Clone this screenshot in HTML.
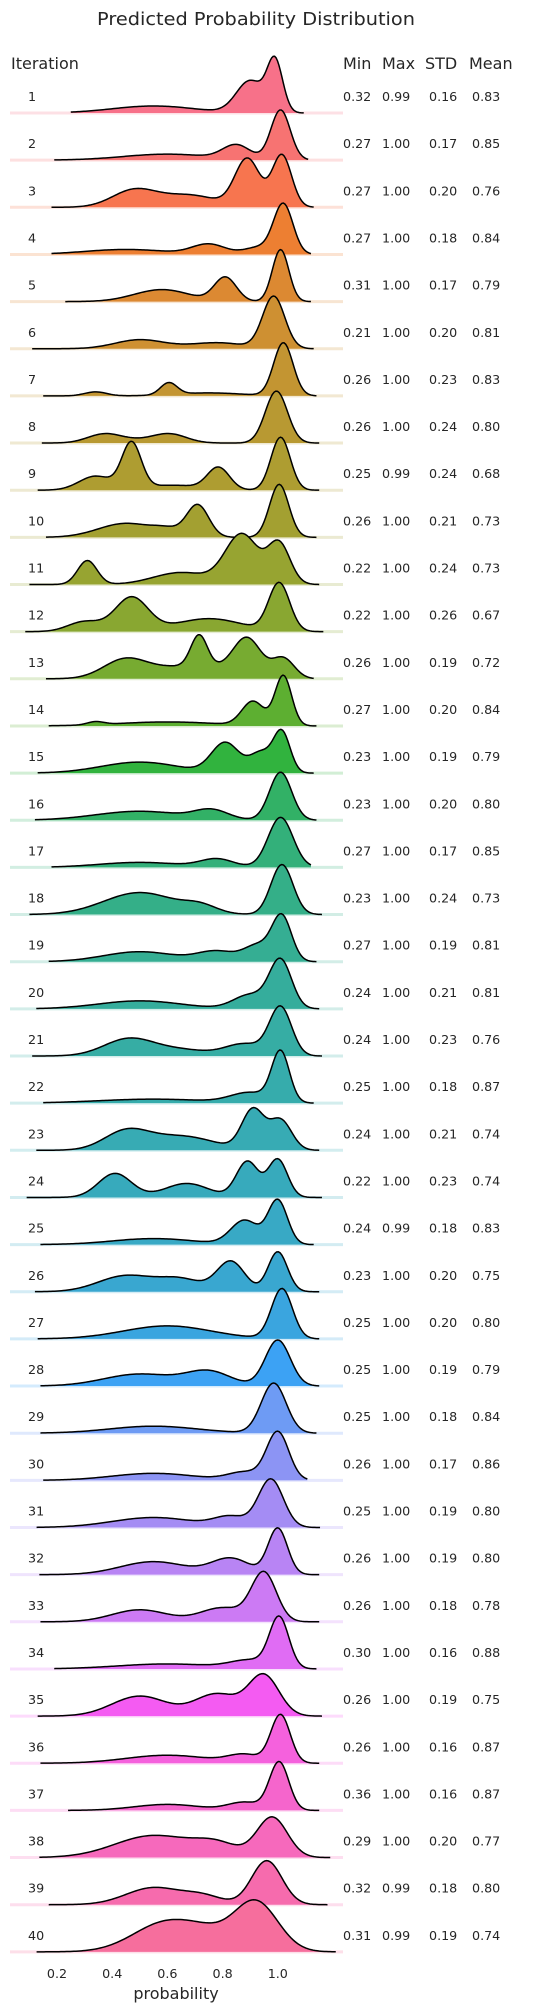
<!DOCTYPE html>
<html><head><meta charset="utf-8">
<style>
html,body{margin:0;padding:0;background:#fff;}
svg{display:block;font-family:"DejaVu Sans","Liberation Sans",sans-serif;}
</style></head>
<body>
<svg id="chart" width="537" height="2010" viewBox="0 0 537 2010" xmlns="http://www.w3.org/2000/svg">
<text x="256" y="25" font-size="18" fill="#262626" text-anchor="middle" textLength="318" lengthAdjust="spacingAndGlyphs">Predicted Probability Distribution</text>
<text x="11" y="69" font-size="16" fill="#262626">Iteration</text>
<text x="343" y="69" font-size="16" fill="#262626">Min</text>
<text x="382" y="69" font-size="16" fill="#262626">Max</text>
<text x="425" y="69" font-size="16" fill="#262626">STD</text>
<text x="469" y="69" font-size="16" fill="#262626">Mean</text>
<g id="ridges"></g>
<g id="labels"></g>
<g id="xaxis"></g>
<text x="176" y="1999" font-size="16" fill="#262626" text-anchor="middle">probability</text>
</svg>
<script>
const xTicks = [0.2, 0.4, 0.6, 0.8, 1.0];
const xTickLabels = ["0.2", "0.4", "0.6", "0.8", "1.0"];
const mins = [0.32,0.27,0.27,0.27,0.31,0.21,0.26,0.26,0.25,0.26,0.22,0.22,0.26,0.27,0.23,0.23,0.27,0.23,0.27,0.24,0.24,0.25,0.24,0.22,0.24,0.23,0.25,0.25,0.25,0.26,0.25,0.26,0.26,0.30,0.26,0.26,0.36,0.29,0.32,0.31];
const maxs = [0.99,1,1,1,1,1,1,1,0.99,1,1,1,1,1,1,1,1,1,1,1,1,1,1,1,0.99,1,1,1,1,1,1,1,1,1,1,1,1,1,0.99,0.99];
const stds = [0.16,0.17,0.20,0.18,0.17,0.20,0.23,0.24,0.24,0.21,0.24,0.26,0.19,0.20,0.19,0.20,0.17,0.24,0.19,0.21,0.23,0.18,0.21,0.23,0.18,0.20,0.20,0.19,0.18,0.17,0.19,0.19,0.18,0.16,0.19,0.16,0.16,0.20,0.18,0.19];
const means = [0.83,0.85,0.76,0.84,0.79,0.81,0.83,0.80,0.68,0.73,0.73,0.67,0.72,0.84,0.79,0.80,0.85,0.73,0.81,0.81,0.76,0.87,0.74,0.74,0.83,0.75,0.80,0.79,0.84,0.86,0.80,0.80,0.78,0.88,0.75,0.87,0.87,0.77,0.80,0.74];
const extentLo = [0.25,0.19,0.18,0.18,0.23,0.11,0.15,0.145,0.13,0.16,0.10,0.085,0.16,0.17,0.13,0.12,0.18,0.10,0.17,0.125,0.11,0.15,0.125,0.09,0.14,0.12,0.13,0.14,0.14,0.15,0.126,0.136,0.14,0.19,0.13,0.14,0.24,0.136,0.17,0.126];
const extentHi = [1.094,1.11,1.13,1.12,1.12,1.13,1.14,1.15,1.15,1.14,1.15,1.165,1.13,1.14,1.13,1.14,1.12,1.16,1.14,1.15,1.16,1.13,1.15,1.16,1.13,1.15,1.15,1.15,1.14,1.107,1.153,1.15,1.15,1.14,1.16,1.15,1.15,1.19,1.18,1.21];
const compLoc = [
[0.99,0.90,0.55],[1.01,0.85,0.6],[0.89,1.015,0.48,0.68],[1.02,0.75,0.45,0.93],[1.01,0.81,0.58],
[0.985,0.5,0.78],[1.02,0.605,0.34,0.75],[0.995,0.37,0.61,0.49],[0.47,0.34,1.01,0.785,0.62],[1.005,0.71,0.45,0.6],
[0.31,0.87,1.005,0.65],[1.005,0.47,0.3,0.75],[0.715,0.89,1.02,0.45,0.62,0.78],[1.02,0.91,0.34,0.6],[1.015,0.94,0.81,0.5],
[1.01,0.76,0.5],[1.01,0.78,0.5],[1.015,0.5,0.72],[1.015,0.93,0.78,0.5],[1.01,0.9,0.5],
[1.01,0.46,0.88,0.65],[1.01,0.9,0.55],[0.91,1.01,0.45,0.65],[1.0,0.89,0.41,0.67],[1.0,0.88,0.55],
[1.0,0.83,0.45,0.65],[1.015,0.6],[1.0,0.75,0.5],[0.985,0.55],[1.0,0.88,0.55],
[0.975,0.83,0.55],[1.0,0.83,0.55],[0.95,0.8,0.5],[1.005,0.9,0.6],[0.95,0.78,0.5],
[1.01,0.88,0.6],[1.005,0.88,0.6],[0.98,0.55,0.78],[0.96,0.55,0.73],[0.92,0.6,0.75]];
const compWidth = [
[0.028,0.05,0.15],[0.035,0.05,0.16],[0.045,0.035,0.08,0.1],[0.035,0.06,0.15,0.05],[0.03,0.04,0.1],
[0.04,0.09,0.1],[0.035,0.03,0.04,0.12],[0.04,0.06,0.06,0.1],[0.035,0.06,0.035,0.04,0.1],[0.035,0.04,0.1,0.05],
[0.035,0.06,0.04,0.1],[0.038,0.06,0.06,0.12],[0.03,0.05,0.04,0.08,0.08,0.1],[0.03,0.04,0.03,0.18],[0.03,0.04,0.05,0.14],
[0.04,0.06,0.16],[0.045,0.06,0.15],[0.04,0.13,0.06],[0.035,0.05,0.07,0.13],[0.04,0.06,0.15],
[0.04,0.09,0.07,0.1],[0.032,0.07,0.2],[0.04,0.04,0.08,0.12],[0.035,0.04,0.06,0.08],[0.035,0.05,0.15],
[0.035,0.05,0.1,0.08],[0.038,0.16],[0.045,0.08,0.13],[0.045,0.16],[0.04,0.06,0.15],
[0.045,0.06,0.15],[0.035,0.07,0.12],[0.045,0.08,0.1],[0.035,0.07,0.18],[0.055,0.08,0.1],
[0.035,0.06,0.15],[0.035,0.06,0.12],[0.055,0.14,0.08],[0.055,0.1,0.07],[0.08,0.12,0.08]];
const compDensity = [
[50,32,7],[50,14,6],[48,52,17,12],[50,10,5,7],[52,24,12],
[52,9,6],[53,12,4,3],[52,8,8,3],[46,14,53,22,5],[53,32,14,6],
[24,50,40,12],[48,34,10,13],[32,36,20,20,8,10],[50,24,3,4],[40,20,30,11],
[48,9,9],[50,8,5],[50,22,7],[44,16,10,10],[48,14,8],
[48,17,12,6],[50,10,4],[40,30,18,14],[38,36,24,14],[44,24,6],
[40,30,16,12],[50,13],[46,14,12],[50,7],[48,8,7],
[48,10,10],[46,16,13],[48,14,12],[50,8,5],[40,22,20],
[48,8,8],[48,8,6],[40,22,12],[44,17,8],[50,30,10]];

const X0 = 57, PX_PER_UNIT = 276, ROW0 = 113, ROW_STEP = 47.15, DENSITY_PX = 1;
function xScale(v){ return X0 + (v - 0.2) * PX_PER_UNIT; }
function rowBase(i){ return ROW0 + i * ROW_STEP; }

// HUSL -> RGB (seaborn husl palette)
const M = [[3.240969941904521,-1.537383177570093,-0.498610760293],[-0.96924363628087,1.87596750150772,0.041555057407175],[0.055630079696993,-0.20397695888897,1.056971514242878]];
function bounds(L){
  const res=[]; const s1=Math.pow(L+16,3)/1560896; const s2 = s1>0.0088564516 ? s1 : L/903.2962962;
  for(let c=0;c<3;c++){const [m1,m2,m3]=M[c];
    for(let t=0;t<2;t++){const top1=(284517*m1-94839*m3)*s2;
      const top2=(838422*m3+769860*m2+731718*m1)*L*s2-769860*t*L;
      const bot=(632260*m3-126452*m2)*s2+126452*t; res.push([top1/bot,top2/bot]);}}
  return res;
}
function maxChroma(L,H){const hr=H/360*Math.PI*2;let mn=Infinity;
  for(const [m,b] of bounds(L)){const len=b/(Math.sin(hr)-m*Math.cos(hr)); if(len>=0) mn=Math.min(mn,len);} return mn;}
function husl(H,S,L){
  const C=maxChroma(L,H)/100*S; const hr=H/360*Math.PI*2;
  const U=Math.cos(hr)*C, V=Math.sin(hr)*C;
  const vu=U/(13*L)+0.19783000664283, vv=V/(13*L)+0.46831999493879;
  const Y = L<=8 ? L/903.2962962 : Math.pow((L+16)/116,3);
  const X = 0-(9*Y*vu)/((vu-4)*vv-vu*vv);
  const Z = (9*Y-15*vv*Y-vv*X)/(3*vv);
  return M.map(r=>{let c=r[0]*X+r[1]*Y+r[2]*Z; c = c<=0.0031308?12.92*c:1.055*Math.pow(c,1/2.4)-0.055;
    return Math.round(Math.max(0,Math.min(1,c))*255);});
}
const N = means.length;
function rowColor(i){ const h=((i/N+0.01)%1)*359; return husl(h,0.9*99,0.65*99); }

const NS="http://www.w3.org/2000/svg";
const ridges=document.getElementById('ridges');
const labels=document.getElementById('labels');
function density(i,x){let s=0; const L=compLoc[i],W=compWidth[i],D=compDensity[i];
  for(let k=0;k<L.length;k++){const z=(x-L[k])/W[k]; s+=D[k]*Math.exp(-0.5*z*z);} return s;}

for(let i=0;i<N;i++){
  const [r,g,b]=rowColor(i); const col=`rgb(${r},${g},${b})`;
  const base=rowBase(i);
  const g0=document.createElementNS(NS,'g');
  
  
  const ln=document.createElementNS(NS,'line');
  
  
  ln.setAttribute('x1',10); ln.setAttribute('x2',343); ln.setAttribute('y1',base); ln.setAttribute('y2',base);
  ln.setAttribute('stroke',`rgba(${r},${g},${b},0.22)`); ln.setAttribute('stroke-width',3);
  g0.appendChild(ln);
  const lo=extentLo[i], hi=extentHi[i]; const n=160; let pts=[];
  for(let k=0;k<=n;k++){const x=lo+(hi-lo)*k/n; pts.push([xScale(x), base-density(i,x)*DENSITY_PX]);}
  const line='M'+pts.map(p=>p[0].toFixed(2)+','+p[1].toFixed(2)).join('L');
  const fill=document.createElementNS(NS,'path');
  
  
  fill.setAttribute('d', line+`L${xScale(hi).toFixed(2)},${base}L${xScale(lo).toFixed(2)},${base}Z`);
  fill.setAttribute('fill',col);
  g0.appendChild(fill);
  const st=document.createElementNS(NS,'path');
  
  
  st.setAttribute('d',line); st.setAttribute('fill','none'); st.setAttribute('stroke','#000'); st.setAttribute('stroke-width',1.5);
  g0.appendChild(st);
  ridges.appendChild(g0);

  const ty=base-12;
  const vals=[[28,String(i+1),'iteration-label'],[343,mins[i].toFixed(2),'min-value'],[382,maxs[i].toFixed(2),'max-value'],[429,stds[i].toFixed(2),'std-value'],[472,means[i].toFixed(2),'mean-value']];
  for(const [x,t,nm] of vals){
    const tx=document.createElementNS(NS,'text');
    
    
    tx.setAttribute('x',x); tx.setAttribute('y',ty); tx.setAttribute('font-size',12.7); tx.setAttribute('fill','#262626');
    tx.textContent=t; labels.appendChild(tx);
  }
}
const xaxis=document.getElementById('xaxis');
for(let k=0;k<xTicks.length;k++){
  const tx=document.createElementNS(NS,'text');
  
  
  tx.setAttribute('x',xScale(xTicks[k])); tx.setAttribute('y',1978); tx.setAttribute('font-size',12.7);
  tx.setAttribute('fill','#262626'); tx.setAttribute('text-anchor','middle');
  tx.textContent=xTickLabels[k]; xaxis.appendChild(tx);
}
</script>
</body></html>
